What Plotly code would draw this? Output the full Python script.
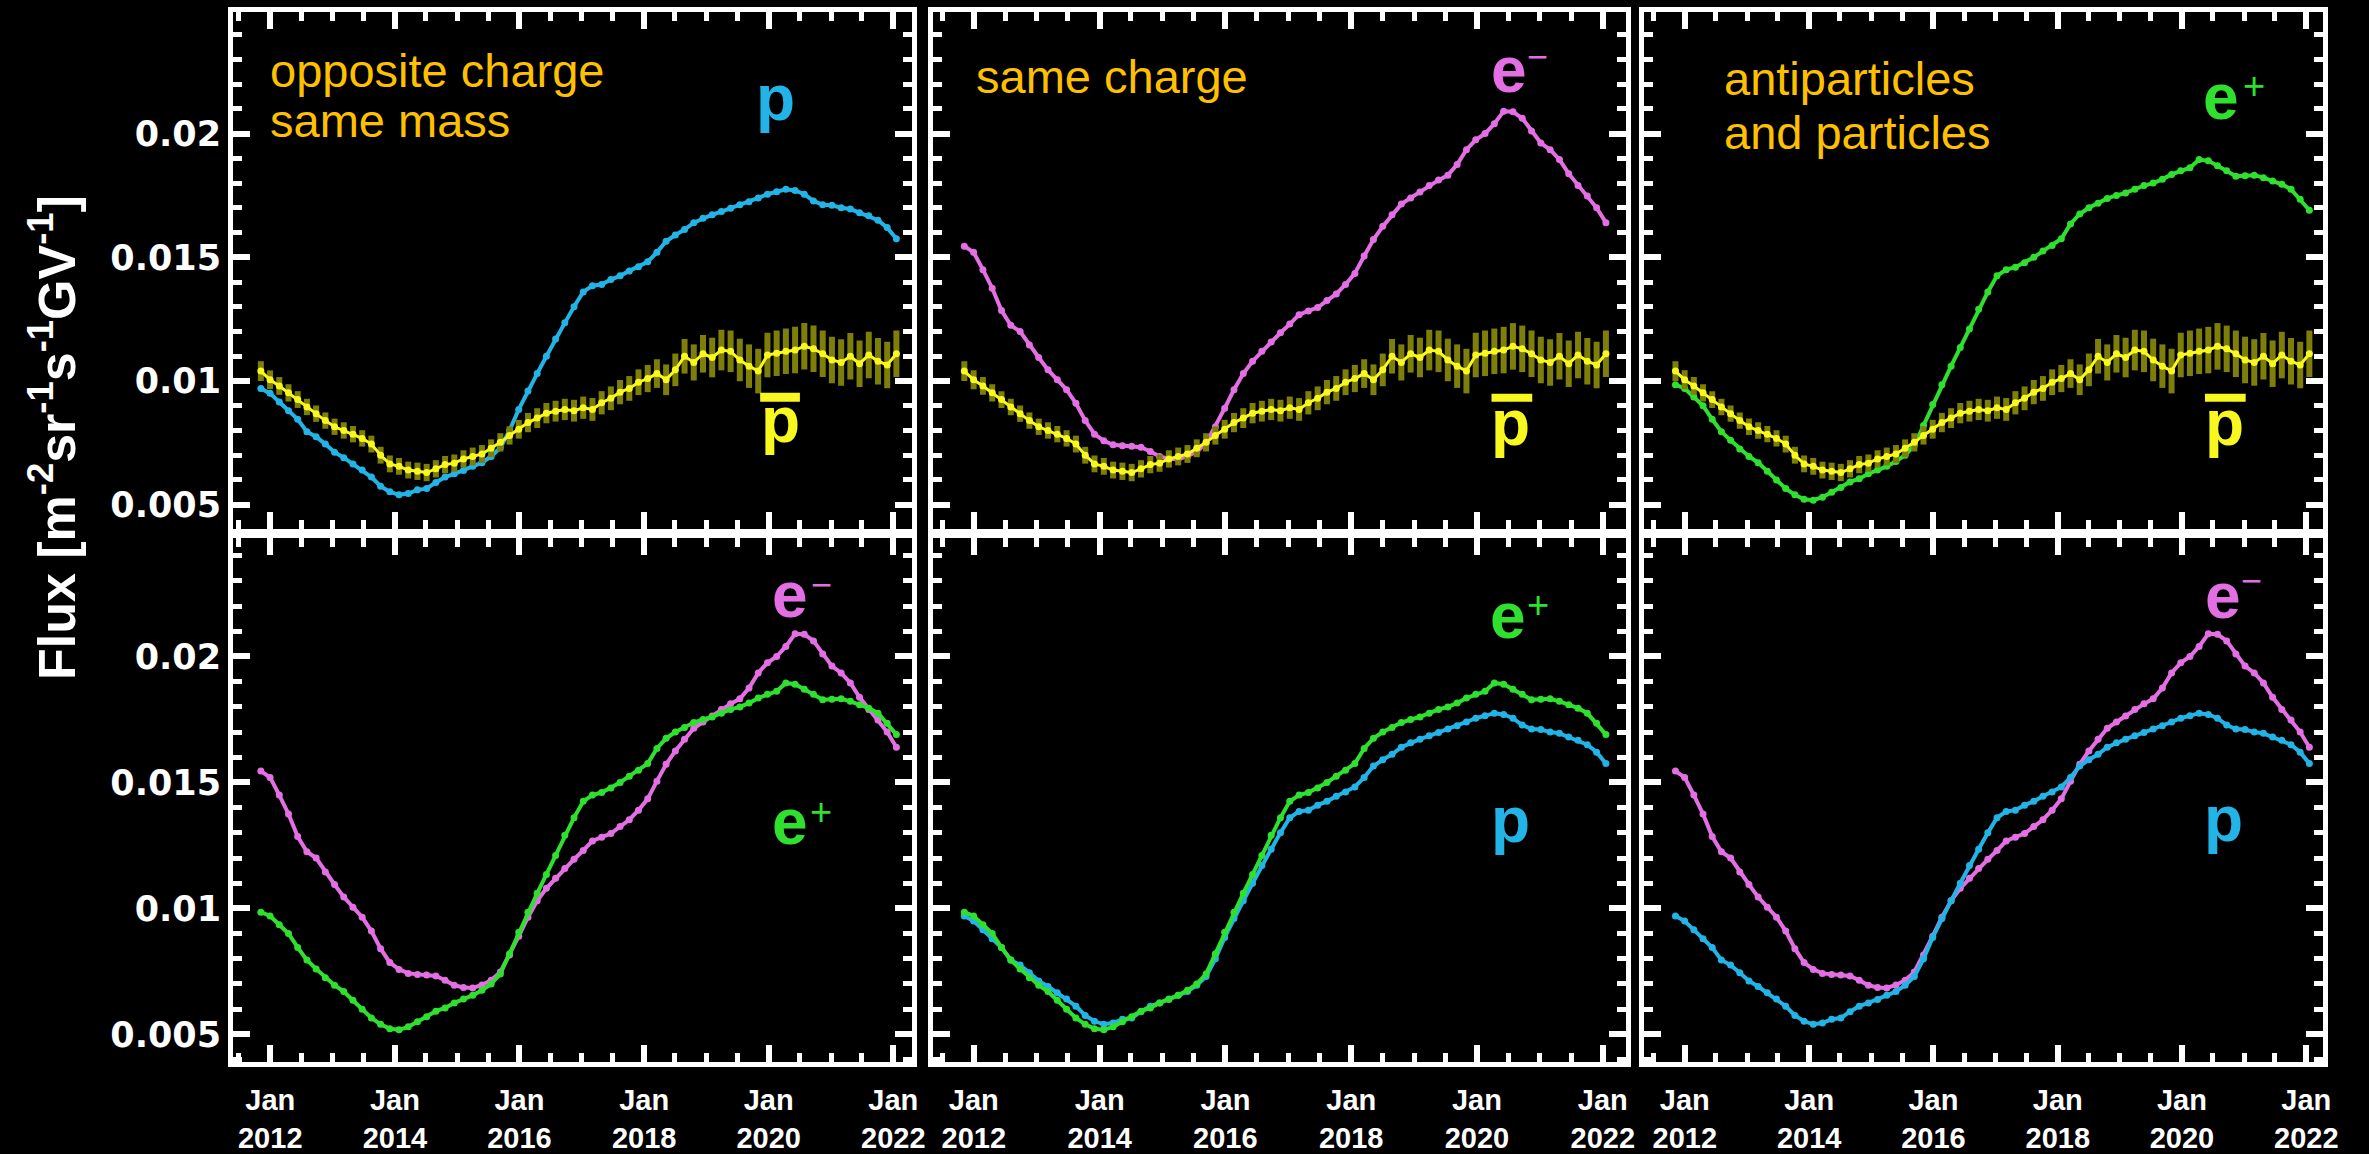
import pandas as pd
import plotly.graph_objects as go

W, H = 2369, 1154

# ---------------- data ----------------
start_date = "2011-11-07"
n_points = 70
step = "54D"          # two Bartels rotations per point
dates = pd.date_range(start_date, periods=n_points, freq=step)

flux_p = [0.00970, 0.00950, 0.00915, 0.00880, 0.00845, 0.00795, 0.00775, 0.00745, 0.00712, 0.00690,
          0.00665, 0.00640, 0.00612, 0.00575, 0.00552, 0.00540, 0.00545, 0.00560, 0.00565, 0.00590,
          0.00612, 0.00625, 0.00638, 0.00655, 0.00670, 0.00695, 0.00730, 0.00800, 0.00885, 0.00960,
          0.01030, 0.01100, 0.01170, 0.01235, 0.01300, 0.01360, 0.01385, 0.01390, 0.01410, 0.01425,
          0.01445, 0.01462, 0.01482, 0.01520, 0.01565, 0.01590, 0.01612, 0.01640, 0.01658, 0.01672,
          0.01685, 0.01698, 0.01712, 0.01725, 0.01740, 0.01755, 0.01765, 0.01775, 0.01770, 0.01755,
          0.01728, 0.01712, 0.01710, 0.01700, 0.01695, 0.01680, 0.01668, 0.01650, 0.01620, 0.01575]

flux_eminus = [0.01545, 0.01520, 0.01450, 0.01375, 0.01285, 0.01225, 0.01200, 0.01145, 0.01095, 0.01045,
               0.01005, 0.00965, 0.00910, 0.00840, 0.00785, 0.00758, 0.00742, 0.00738, 0.00736, 0.00732,
               0.00715, 0.00695, 0.00686, 0.00684, 0.00696, 0.00715, 0.00748, 0.00815, 0.00890, 0.00965,
               0.01030, 0.01080, 0.01120, 0.01158, 0.01195, 0.01230, 0.01268, 0.01283, 0.01297, 0.01325,
               0.01352, 0.01390, 0.01435, 0.01505, 0.01572, 0.01625, 0.01672, 0.01715, 0.01740, 0.01764,
               0.01790, 0.01812, 0.01832, 0.01875, 0.01935, 0.01975, 0.02000, 0.02040, 0.02090, 0.02088,
               0.02062, 0.02010, 0.01962, 0.01935, 0.01895, 0.01838, 0.01790, 0.01748, 0.01700, 0.01640]

flux_eplus = [0.00985, 0.00970, 0.00935, 0.00900, 0.00845, 0.00795, 0.00760, 0.00725, 0.00695, 0.00670,
              0.00635, 0.00600, 0.00565, 0.00540, 0.00522, 0.00518, 0.00530, 0.00550, 0.00570, 0.00592,
              0.00605, 0.00625, 0.00640, 0.00655, 0.00675, 0.00700, 0.00740, 0.00820, 0.00905, 0.00985,
              0.01060, 0.01135, 0.01210, 0.01290, 0.01360, 0.01425, 0.01450, 0.01460, 0.01478, 0.01500,
              0.01525, 0.01548, 0.01575, 0.01635, 0.01675, 0.01700, 0.01718, 0.01738, 0.01750, 0.01760,
              0.01775, 0.01790, 0.01800, 0.01815, 0.01835, 0.01850, 0.01862, 0.01895, 0.01890, 0.01870,
              0.01850, 0.01828, 0.01830, 0.01832, 0.01822, 0.01808, 0.01795, 0.01775, 0.01735, 0.01690]

flux_pbar = [0.01040, 0.01005, 0.00980, 0.00952, 0.00925, 0.00895, 0.00868, 0.00840, 0.00815, 0.00800,
             0.00785, 0.00768, 0.00745, 0.00700, 0.00665, 0.00655, 0.00640, 0.00635, 0.00630, 0.00645,
             0.00662, 0.00668, 0.00685, 0.00695, 0.00705, 0.00728, 0.00752, 0.00780, 0.00805, 0.00832,
             0.00850, 0.00870, 0.00878, 0.00885, 0.00880, 0.00892, 0.00885, 0.00912, 0.00930, 0.00955,
             0.00970, 0.00995, 0.01010, 0.01030, 0.01005, 0.01045, 0.01100, 0.01075, 0.01110, 0.01095,
             0.01125, 0.01120, 0.01085, 0.01060, 0.01040, 0.01105, 0.01112, 0.01120, 0.01125, 0.01140,
             0.01130, 0.01110, 0.01085, 0.01075, 0.01100, 0.01070, 0.01105, 0.01080, 0.01065, 0.01110]

err_pbar = [0.00040, 0.00038, 0.00036, 0.00035, 0.00034, 0.00033, 0.00033, 0.00033, 0.00033, 0.00033,
            0.00033, 0.00033, 0.00034, 0.00034, 0.00034, 0.00034, 0.00034, 0.00035, 0.00035, 0.00035,
            0.00035, 0.00035, 0.00035, 0.00036, 0.00036, 0.00036, 0.00037, 0.00037, 0.00038, 0.00039,
            0.00040, 0.00041, 0.00042, 0.00043, 0.00044, 0.00045, 0.00046, 0.00047, 0.00048, 0.00049,
            0.00050, 0.00052, 0.00055, 0.00058, 0.00062, 0.00066, 0.00070, 0.00073, 0.00076, 0.00080,
            0.00082, 0.00084, 0.00086, 0.00088, 0.00090, 0.00090, 0.00092, 0.00092, 0.00094, 0.00094,
            0.00094, 0.00094, 0.00094, 0.00094, 0.00094, 0.00094, 0.00094, 0.00094, 0.00094, 0.00094]

tick_years = [2012, 2014, 2016, 2018, 2020, 2022]
x_ticktext = ["Jan<br>2012", "Jan<br>2014", "Jan<br>2016", "Jan<br>2018", "Jan<br>2020", "Jan<br>2022"]
y_tickvals = [0.005, 0.01, 0.015, 0.02]
y_ticktext = ["0.005", "0.01", "0.015", "0.02"]

panel_notes = [["opposite charge", "same mass"], ["same charge"], ["antiparticles", "and particles"]]
y_title = "Flux [m<sup>-2</sup>sr<sup>-1</sup>s<sup>-1</sup>GV<sup>-1</sup>]"

# ---------------- styles ----------------
COL_P = "#22b4e6"
COL_EM = "#e46fe4"
COL_EP = "#2fe02f"
COL_PB = "#f8f820"
COL_ERR = "#7e7e0a"
COL_NOTE = "#ffc000"
FONT = "Liberation Sans"

series = {
    "p": (flux_p, COL_P),
    "em": (flux_eminus, COL_EM),
    "ep": (flux_eplus, COL_EP),
    "pbar": (flux_pbar, COL_PB),
}
panel_series = {1: ["p", "pbar"], 2: ["em", "pbar"], 3: ["ep", "pbar"],
                4: ["em", "ep"], 5: ["p", "ep"], 6: ["em", "p"]}

# layout geometry in pixels
col_dom = [(234.5, 917.5), (938.5, 1636.5), (1654, 2338)]
col_xrange = [(2011.402, 2022.295), (2011.344, 2022.371), (2011.335, 2022.272)]
row_dom = [(12.5, 534.5), (543.5, 1073.5)]
row_yrange = [(0.00402, 0.0249), (0.00389, 0.02471)]


def yf_to_ts(yf):
    y = int(yf)
    s = pd.Timestamp(year=y, month=1, day=1)
    e = pd.Timestamp(year=y + 1, month=1, day=1)
    return s + (e - s) * (yf - y)


fig = go.Figure()
layout = dict(width=W, height=H, margin=dict(l=0, r=0, t=0, b=0),
              paper_bgcolor="black", plot_bgcolor="black", showlegend=False)

x_tickvals = [pd.Timestamp(year=y, month=1, day=1) for y in tick_years]

for i in range(1, 7):
    row = 0 if i <= 3 else 1
    col = (i - 1) % 3
    xn = "x" if i == 1 else f"x{i}"
    yn = "y" if i == 1 else f"y{i}"
    xk = "xaxis" if i == 1 else f"xaxis{i}"
    yk = "yaxis" if i == 1 else f"yaxis{i}"
    common = dict(showline=True, linecolor="white", linewidth=5, mirror="ticks",
                  ticks="inside", tickcolor="white", tickwidth=6, ticklen=17,
                  showgrid=False, zeroline=False)
    layout[xk] = dict(common, anchor=yn, type="date",
                      domain=[col_dom[col][0] / W, col_dom[col][1] / W],
                      range=[yf_to_ts(col_xrange[col][0]), yf_to_ts(col_xrange[col][1])],
                      tickmode="array", tickvals=x_tickvals, ticktext=x_ticktext,
                      showticklabels=(row == 1), ticklabelstandoff=8,
                      tickfont=dict(family=FONT, size=29, color="white", weight="bold"),
                      minor=dict(ticks="inside", ticklen=9, tickwidth=5, tickcolor="white",
                                 dtick="M6", tick0="2012-01-01", showgrid=False))
    layout[yk] = dict(common, anchor=xn,
                      domain=[1 - row_dom[row][1] / H, 1 - row_dom[row][0] / H],
                      range=list(row_yrange[row]),
                      tickmode="array", tickvals=y_tickvals, ticktext=y_ticktext,
                      showticklabels=(col == 0),
                      tickfont=dict(family="DejaVu Sans", size=35, color="white", weight="bold"),
                      minor=dict(ticks="inside", ticklen=9, tickwidth=5, tickcolor="white",
                                 tickmode="linear", tick0=0, dtick=0.001, showgrid=False))
    for key in panel_series[i]:
        vals, color = series[key]
        tr = dict(x=dates, y=vals, xaxis=xn, yaxis=yn, mode="lines+markers",
                  line=dict(color=color, width=4), marker=dict(color=color, size=7),
                  hoverinfo="skip")
        if key == "pbar":
            tr["line"] = dict(color=color, width=3)
            tr["marker"] = dict(color=color, size=7)
            tr["error_y"] = dict(type="data", array=err_pbar, color=COL_ERR, thickness=6, width=0)
        fig.add_trace(go.Scatter(**tr))

annotations = []
shapes = []


def ann(text, x, y, color, size, bold=False, xanchor="center", angle=0, family=FONT):
    annotations.append(dict(text=text, x=x / W, y=1 - y / H, xref="paper", yref="paper",
                            showarrow=False, xanchor=xanchor, yanchor="middle", textangle=angle,
                            font=dict(family=family, size=size, color=color,
                                      weight="bold" if bold else "normal")))


# y-axis title
ann(y_title, 54, 442, "white", 52, bold=True, angle=-90)

# panel notes
ann(panel_notes[0][0], 270, 71, COL_NOTE, 47, xanchor="left")
ann(panel_notes[0][1], 270, 122, COL_NOTE, 47, xanchor="left")
ann(panel_notes[1][0], 980, 77, COL_NOTE, 47, xanchor="left")
ann(panel_notes[2][0], 1733, 79, COL_NOTE, 47, xanchor="left")
ann(panel_notes[2][1], 1733, 134, COL_NOTE, 47, xanchor="left")

LS = 64
# particle labels, top row
ann("p", 780.5, 99.5, COL_P, LS, bold=True)
for (px_, py_, bx0, by0, bx1, by1) in [(785, 424.5, 765, 397, 805, 406),
                                       (1520, 427.5, 1501, 398, 1542, 406),
                                       (2238.5, 427.5, 2219, 398, 2260, 406)]:
    ann("p", px_, py_, COL_PB, LS, bold=True)
    shapes.append(dict(type="rect", xref="paper", yref="paper",
                       x0=bx0 / W, x1=bx1 / W, y0=1 - by1 / H, y1=1 - by0 / H,
                       fillcolor=COL_PB, line=dict(width=0)))
ann("e", 1518.5, 70.5, COL_EM, LS, bold=True)
ann("\u2212", 1547, 57, COL_EM, 36)
ann("e", 2235, 98, COL_EP, LS, bold=True)
ann("+", 2268, 86.5, COL_EP, 38)
# bottom row
ann("e", 795.5, 601.5, COL_EM, LS, bold=True)
ann("\u2212", 827, 591, COL_EM, 36)
ann("e", 795.5, 831, COL_EP, LS, bold=True)
ann("+", 826, 821, COL_EP, 38)
ann("e", 1518, 622.5, COL_EP, LS, bold=True)
ann("+", 1548, 611, COL_EP, 38)
ann("p", 1520, 828.5, COL_P, LS, bold=True)
ann("e", 2237.5, 602.5, COL_EM, LS, bold=True)
ann("\u2212", 2266, 587, COL_EM, 36)
ann("p", 2237.5, 827.5, COL_P, LS, bold=True)

layout["annotations"] = annotations
layout["shapes"] = shapes
fig.update_layout(**layout)
fig.write_html("out.html")
